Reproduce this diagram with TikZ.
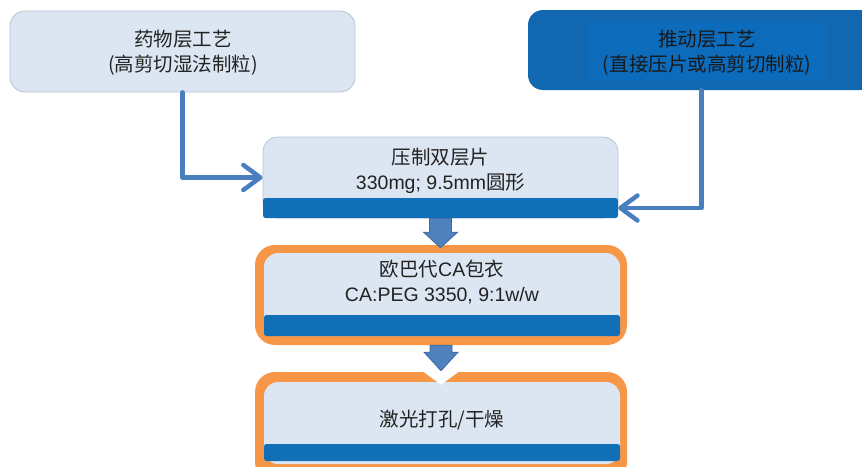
\documentclass[tikz,border=0pt]{standalone}
\usepackage{fontspec}
\setmainfont{Liberation Sans}
\newfontfamily\cjk{Noto Sans CJK SC}
\usetikzlibrary{arrows.meta,calc}
\definecolor{lightbox}{HTML}{DCE6F2}
\definecolor{boxedge}{HTML}{B8C3D2}
\definecolor{darkband}{HTML}{106FB7}
\definecolor{pushfill}{HTML}{1168B0}
\definecolor{pushinner}{HTML}{0C6BBB}
\definecolor{linkblue}{HTML}{4A7EBF}
\definecolor{arrowfill}{HTML}{4F81BD}
\definecolor{arrowedge}{HTML}{3B6AA0}
\definecolor{orangeframe}{HTML}{F79646}
\definecolor{txt}{HTML}{222222}
\begin{document}
\begin{tikzpicture}[x=1pt,y=-1pt,
  lbl/.style={font=\fontsize{19.5}{25}\selectfont, text=txt, align=center, inner sep=0pt},
  cj/.style={},
  lightnode/.style={draw=boxedge, line width=0.8pt, fill=lightbox, rounded corners=15pt, inner sep=0pt},
  bandnode/.style={fill=darkband, rounded corners=2.5pt, inner sep=0pt, minimum width=356pt},
  framenode/.style={fill=orangeframe, rounded corners=20pt, inner sep=0pt, minimum width=372pt},
  innernode/.style={fill=lightbox, rounded corners=14pt, inner sep=0pt, minimum width=356pt},
  link/.style={draw=linkblue, line width=4.5pt, line cap=round, line join=round,
    -{Straight Barb[length=17pt,width=25pt,line cap=round,line join=round]}},
  blockarrow/.style={fill=arrowfill, draw=arrowedge, line width=0.8pt, line join=miter}
]
\useasboundingbox (0,0) rectangle (862,466);
\clip (0,0) rectangle (862,466);

% drug layer
\node[lightnode, minimum width=345pt, minimum height=81pt] (drug) at (182.5,51.5) {};
\node[lbl] (drugtxt) at (183,52.5) {{\cjk\fontsize{19.5}{25}\selectfont 药物层工艺}\\{\cjk\fontsize{19.5}{25}\selectfont (高剪切湿法制粒)}};

% push layer
\node[fill=pushfill, rounded corners=15pt, minimum width=347pt, minimum height=80pt, inner sep=0pt] (push) at (701.5,50) {};
\node[fill=pushinner, minimum width=238pt, minimum height=58pt, inner sep=0pt] (pushbg) at (707,51) {};
\node[lbl, text=black!90] (pushtxt) at (707,52.5) {{\cjk\fontsize{19.5}{25}\selectfont 推动层工艺}\\{\cjk\fontsize{19.5}{25}\selectfont (直接压片或高剪切制粒)}};

% press
\node[lightnode, minimum width=355pt, minimum height=81pt] (press) at (440.5,177.5) {};
\node[bandnode, minimum width=355pt, minimum height=20pt] (pressband) at (440.5,208) {};
\node[lbl] (presstxt) at (440.5,171) {{\cjk\fontsize{19.5}{25}\selectfont 压制双层片}\\330mg; 9.5mm{\cjk\fontsize{19.5}{25}\selectfont 圆形}};

% coating
\node[framenode, minimum height=100pt] (coatframe) at (441,295) {};
\node[innernode, minimum height=83pt] (coat) at (442,294.5) {};
\node[bandnode, minimum height=21pt] (coatband) at (442,325.5) {};
\node[lbl] (coattxt) at (442,282.5) {{\cjk\fontsize{19.5}{25}\selectfont 欧巴代}CA{\cjk\fontsize{19.5}{25}\selectfont 包衣}\\CA:PEG 3350, 9:1w/w};

% laser drilling
\node[framenode, minimum height=110pt] (laserframe) at (441,427) {};
\node[innernode, minimum height=82pt] (laser) at (442,423) {};
\node[bandnode, minimum height=17pt] (laserband) at (442,452.5) {};
\node[lbl] (lasertxt) at (442,420) {{\cjk\fontsize{19.5}{25}\selectfont 激光打孔/干燥}};

% connectors
\draw[link] (drug.south) |- (press.west);
\draw[link] (push.south) |- (pressband.east);

% block arrows
\filldraw[blockarrow] ($(pressband.south)+(-11,0)$) -- ($(pressband.south)+(-11,14)$)
  -- ($(pressband.south)+(-17,14)$) -- ($(coatframe.north)+(-0.5,3)$)
  -- ($(pressband.south)+(17,14)$) -- ($(pressband.south)+(11,14)$)
  -- ($(pressband.south)+(11,0)$) -- cycle;
\filldraw[blockarrow] ($(coatframe.south)+(-11,0)$) -- ($(coatframe.south)+(-11,7)$)
  -- ($(coatframe.south)+(-17,7)$) -- ($(laserframe.north)+(0,-1)$)
  -- ($(coatframe.south)+(17,7)$) -- ($(coatframe.south)+(11,7)$)
  -- ($(coatframe.south)+(11,0)$) -- cycle;
\fill[white] ($(laserframe.north)+(-19,-1)$) -- ($(laserframe.north)+(19,-1)$) -- ($(laserframe.north)+(0,13)$) -- cycle;
\end{tikzpicture}
\end{document}
